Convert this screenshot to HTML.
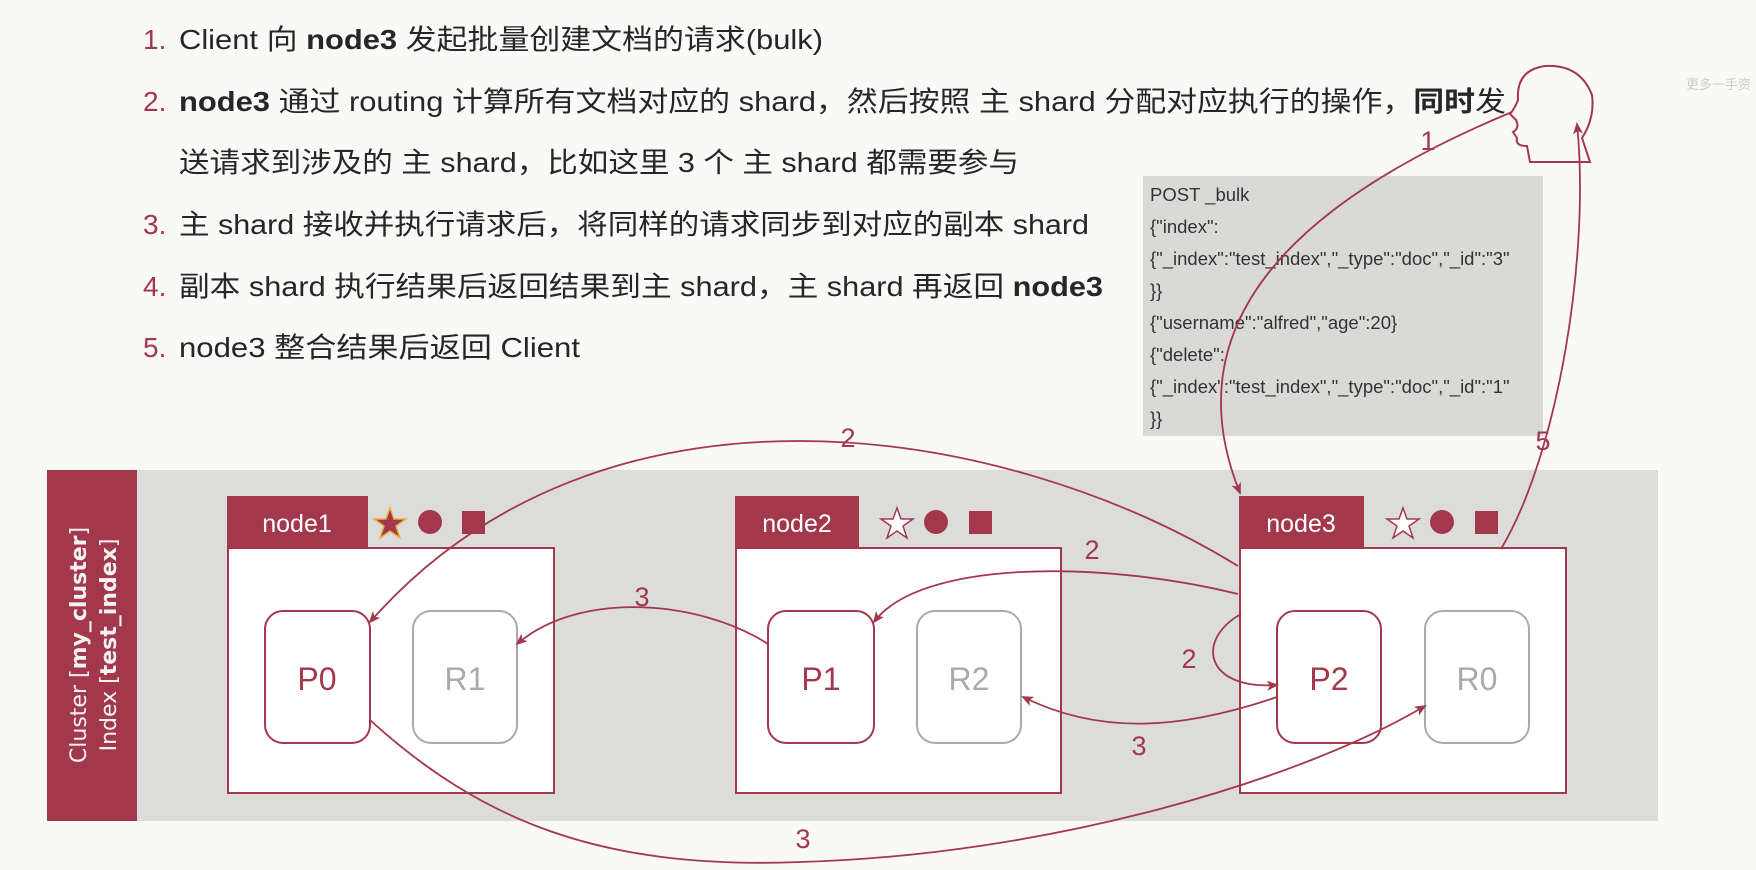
<!DOCTYPE html>
<html><head><meta charset="utf-8"><style>
html,body{margin:0;padding:0;background:#f9f9f7;}
svg{display:block;}
.t{font-family:"Liberation Sans","Noto Sans CJK SC",sans-serif;font-size:28px;fill:#262626;}
.n{fill:#a3384d;}
.c{font-family:"Liberation Sans","Noto Sans CJK SC",sans-serif;font-size:18.5px;fill:#333;}
.lab{font-family:"Liberation Sans",sans-serif;font-size:27px;fill:#a3384d;}
</style></head><body>
<svg width="1756" height="870" viewBox="0 0 1756 870" xmlns="http://www.w3.org/2000/svg">
<defs><marker id="a" markerWidth="12" markerHeight="10" refX="10" refY="5" orient="auto" markerUnits="userSpaceOnUse"><path d="M0,0 L12,5 L0,10 L3,5 Z" fill="#a3384d"/></marker></defs>
<rect width="1756" height="870" fill="#f9f9f7"/>
<g class="t">
<text x="143" y="49"><tspan class="n">1.</tspan></text>
<text x="179" y="49" textLength="644" lengthAdjust="spacingAndGlyphs">Client 向 <tspan font-weight="bold">node3</tspan> 发起批量创建文档的请求(bulk)</text>
<text x="143" y="111"><tspan class="n">2.</tspan></text>
<text x="179" y="111" textLength="1327" lengthAdjust="spacingAndGlyphs"><tspan font-weight="bold">node3</tspan> 通过 routing 计算所有文档对应的 shard，然后按照 主 shard 分配对应执行的操作，<tspan font-weight="bold">同时</tspan>发</text>
<text x="179" y="172" textLength="840" lengthAdjust="spacingAndGlyphs">送请求到涉及的 主 shard，比如这里 3 个 主 shard 都需要参与</text>
<text x="143" y="234"><tspan class="n">3.</tspan></text>
<text x="179" y="234" textLength="910" lengthAdjust="spacingAndGlyphs">主 shard 接收并执行请求后，将同样的请求同步到对应的副本 shard</text>
<text x="143" y="296"><tspan class="n">4.</tspan></text>
<text x="179" y="296" textLength="924" lengthAdjust="spacingAndGlyphs">副本 shard 执行结果后返回结果到主 shard，主 shard 再返回 <tspan font-weight="bold">node3</tspan></text>
<text x="143" y="357"><tspan class="n">5.</tspan></text>
<text x="179" y="357" textLength="401" lengthAdjust="spacingAndGlyphs">node3 整合结果后返回 Client</text>
</g>
<text x="1686" y="89" font-family="Liberation Sans,Noto Sans CJK SC,sans-serif" font-size="13" fill="#ccc">更多一手资</text>
<rect x="1143" y="176" width="400" height="260" fill="#d9d9d7"/>
<g class="c">
<text x="1150" y="201">POST _bulk</text>
<text x="1150" y="233">{"index":</text>
<text x="1150" y="265">{"_index":"test_index","_type":"doc","_id":"3"</text>
<text x="1150" y="297">}}</text>
<text x="1150" y="329">{"username":"alfred","age":20}</text>
<text x="1150" y="361">{"delete":</text>
<text x="1150" y="393">{"_index":"test_index","_type":"doc","_id":"1"</text>
<text x="1150" y="425">}}</text>
</g>
<path d="M1530,162 L1527,146 Q1515,146 1517,138 L1513,132 Q1520,128 1516,120 L1510,114 Q1515,108 1518,100 Q1516,70 1545,66 Q1580,64 1592,95 Q1595,118 1582,138 L1590,162 Z" fill="none" stroke="#a3384d" stroke-width="2"/>
<rect x="47" y="470" width="1611" height="351" fill="#dcdcdb"/>
<rect x="47" y="470" width="90" height="351" fill="#a3384d"/>
<g font-family="DejaVu Sans,Liberation Sans,sans-serif" font-size="22" fill="#f2f2f2" transform="translate(86,645) rotate(-90)" text-anchor="middle">
<text x="0" y="0">Cluster [<tspan font-weight="bold">my_cluster</tspan>]</text>
<text x="0" y="30">Index [<tspan font-weight="bold">test_index</tspan>]</text>
</g>
<g font-family="Liberation Sans,sans-serif">
<g>
<rect x="228" y="548" width="326" height="245" fill="#fff" stroke="#a3384d" stroke-width="2"/>
<rect x="227" y="496" width="141" height="52" fill="#a3384d"/>
<text x="297" y="532" text-anchor="middle" font-size="25" fill="#fff">node1</text>
<polygon points="390,508 394,519 406,519 396,526 400,538 390,531 380,538 384,526 374,519 386,519" fill="#a3384d" stroke="#e8b040" stroke-width="1.5"/>
<circle cx="430" cy="522" r="12" fill="#a3384d"/>
<rect x="462" y="511" width="23" height="23" fill="#a3384d"/>
<rect x="265" y="611" width="105" height="132" rx="18" fill="#fff" stroke="#a3384d" stroke-width="2"/>
<text x="317" y="690" text-anchor="middle" font-size="32" fill="#a3384d">P0</text>
<rect x="413" y="611" width="104" height="132" rx="18" fill="#fff" stroke="#aaa" stroke-width="2"/>
<text x="465" y="690" text-anchor="middle" font-size="32" fill="#aaa">R1</text>
</g>
<g>
<rect x="736" y="548" width="325" height="245" fill="#fff" stroke="#a3384d" stroke-width="2"/>
<rect x="735" y="496" width="124" height="52" fill="#a3384d"/>
<text x="797" y="532" text-anchor="middle" font-size="25" fill="#fff">node2</text>
<polygon points="897,508 901,519 913,519 903,526 907,538 897,531 887,538 891,526 881,519 893,519" fill="#fff" stroke="#a3384d" stroke-width="1.5"/>
<circle cx="936" cy="522" r="12" fill="#a3384d"/>
<rect x="969" y="511" width="23" height="23" fill="#a3384d"/>
<rect x="768" y="611" width="106" height="132" rx="18" fill="#fff" stroke="#a3384d" stroke-width="2"/>
<text x="821" y="690" text-anchor="middle" font-size="32" fill="#a3384d">P1</text>
<rect x="917" y="611" width="104" height="132" rx="18" fill="#fff" stroke="#aaa" stroke-width="2"/>
<text x="969" y="690" text-anchor="middle" font-size="32" fill="#aaa">R2</text>
</g>
<g>
<rect x="1240" y="548" width="326" height="245" fill="#fff" stroke="#a3384d" stroke-width="2"/>
<rect x="1239" y="496" width="125" height="52" fill="#a3384d"/>
<text x="1301" y="532" text-anchor="middle" font-size="25" fill="#fff">node3</text>
<polygon points="1403,508 1407,519 1419,519 1409,526 1413,538 1403,531 1393,538 1397,526 1387,519 1399,519" fill="#fff" stroke="#a3384d" stroke-width="1.5"/>
<circle cx="1442" cy="522" r="12" fill="#a3384d"/>
<rect x="1475" y="511" width="23" height="23" fill="#a3384d"/>
<rect x="1277" y="611" width="104" height="132" rx="18" fill="#fff" stroke="#a3384d" stroke-width="2"/>
<text x="1329" y="690" text-anchor="middle" font-size="32" fill="#a3384d">P2</text>
<rect x="1425" y="611" width="104" height="132" rx="18" fill="#fff" stroke="#aaa" stroke-width="2"/>
<text x="1477" y="690" text-anchor="middle" font-size="32" fill="#aaa">R0</text>
</g>
</g>
<g fill="none" stroke="#a3384d" stroke-width="1.8" marker-end="url(#a)">
<path d="M1512,112 C1300,200 1170,320 1240,493"/>
<path d="M1501,549 C1560,450 1590,250 1577,124"/>
<path d="M1238,566 C1000,420 600,360 370,622"/>
<path d="M1238,594 C1100,560 920,560 874,622"/>
<path d="M1241,614 C1195,640 1205,690 1277,685"/>
<path d="M768,644 C700,600 580,590 517,644"/>
<path d="M1277,697 C1180,730 1100,735 1023,697"/>
<path d="M370,720 C480,820 600,870 800,862 C1050,855 1300,780 1425,706"/>
</g>
<g class="lab">
<text x="1428" y="150" text-anchor="middle">1</text>
<text x="1543" y="450" text-anchor="middle">5</text>
<text x="848" y="447" text-anchor="middle">2</text>
<text x="1092" y="559" text-anchor="middle">2</text>
<text x="1189" y="668" text-anchor="middle">2</text>
<text x="642" y="606" text-anchor="middle">3</text>
<text x="1139" y="755" text-anchor="middle">3</text>
<text x="803" y="848" text-anchor="middle">3</text>
</g>
</svg>
</body></html>
